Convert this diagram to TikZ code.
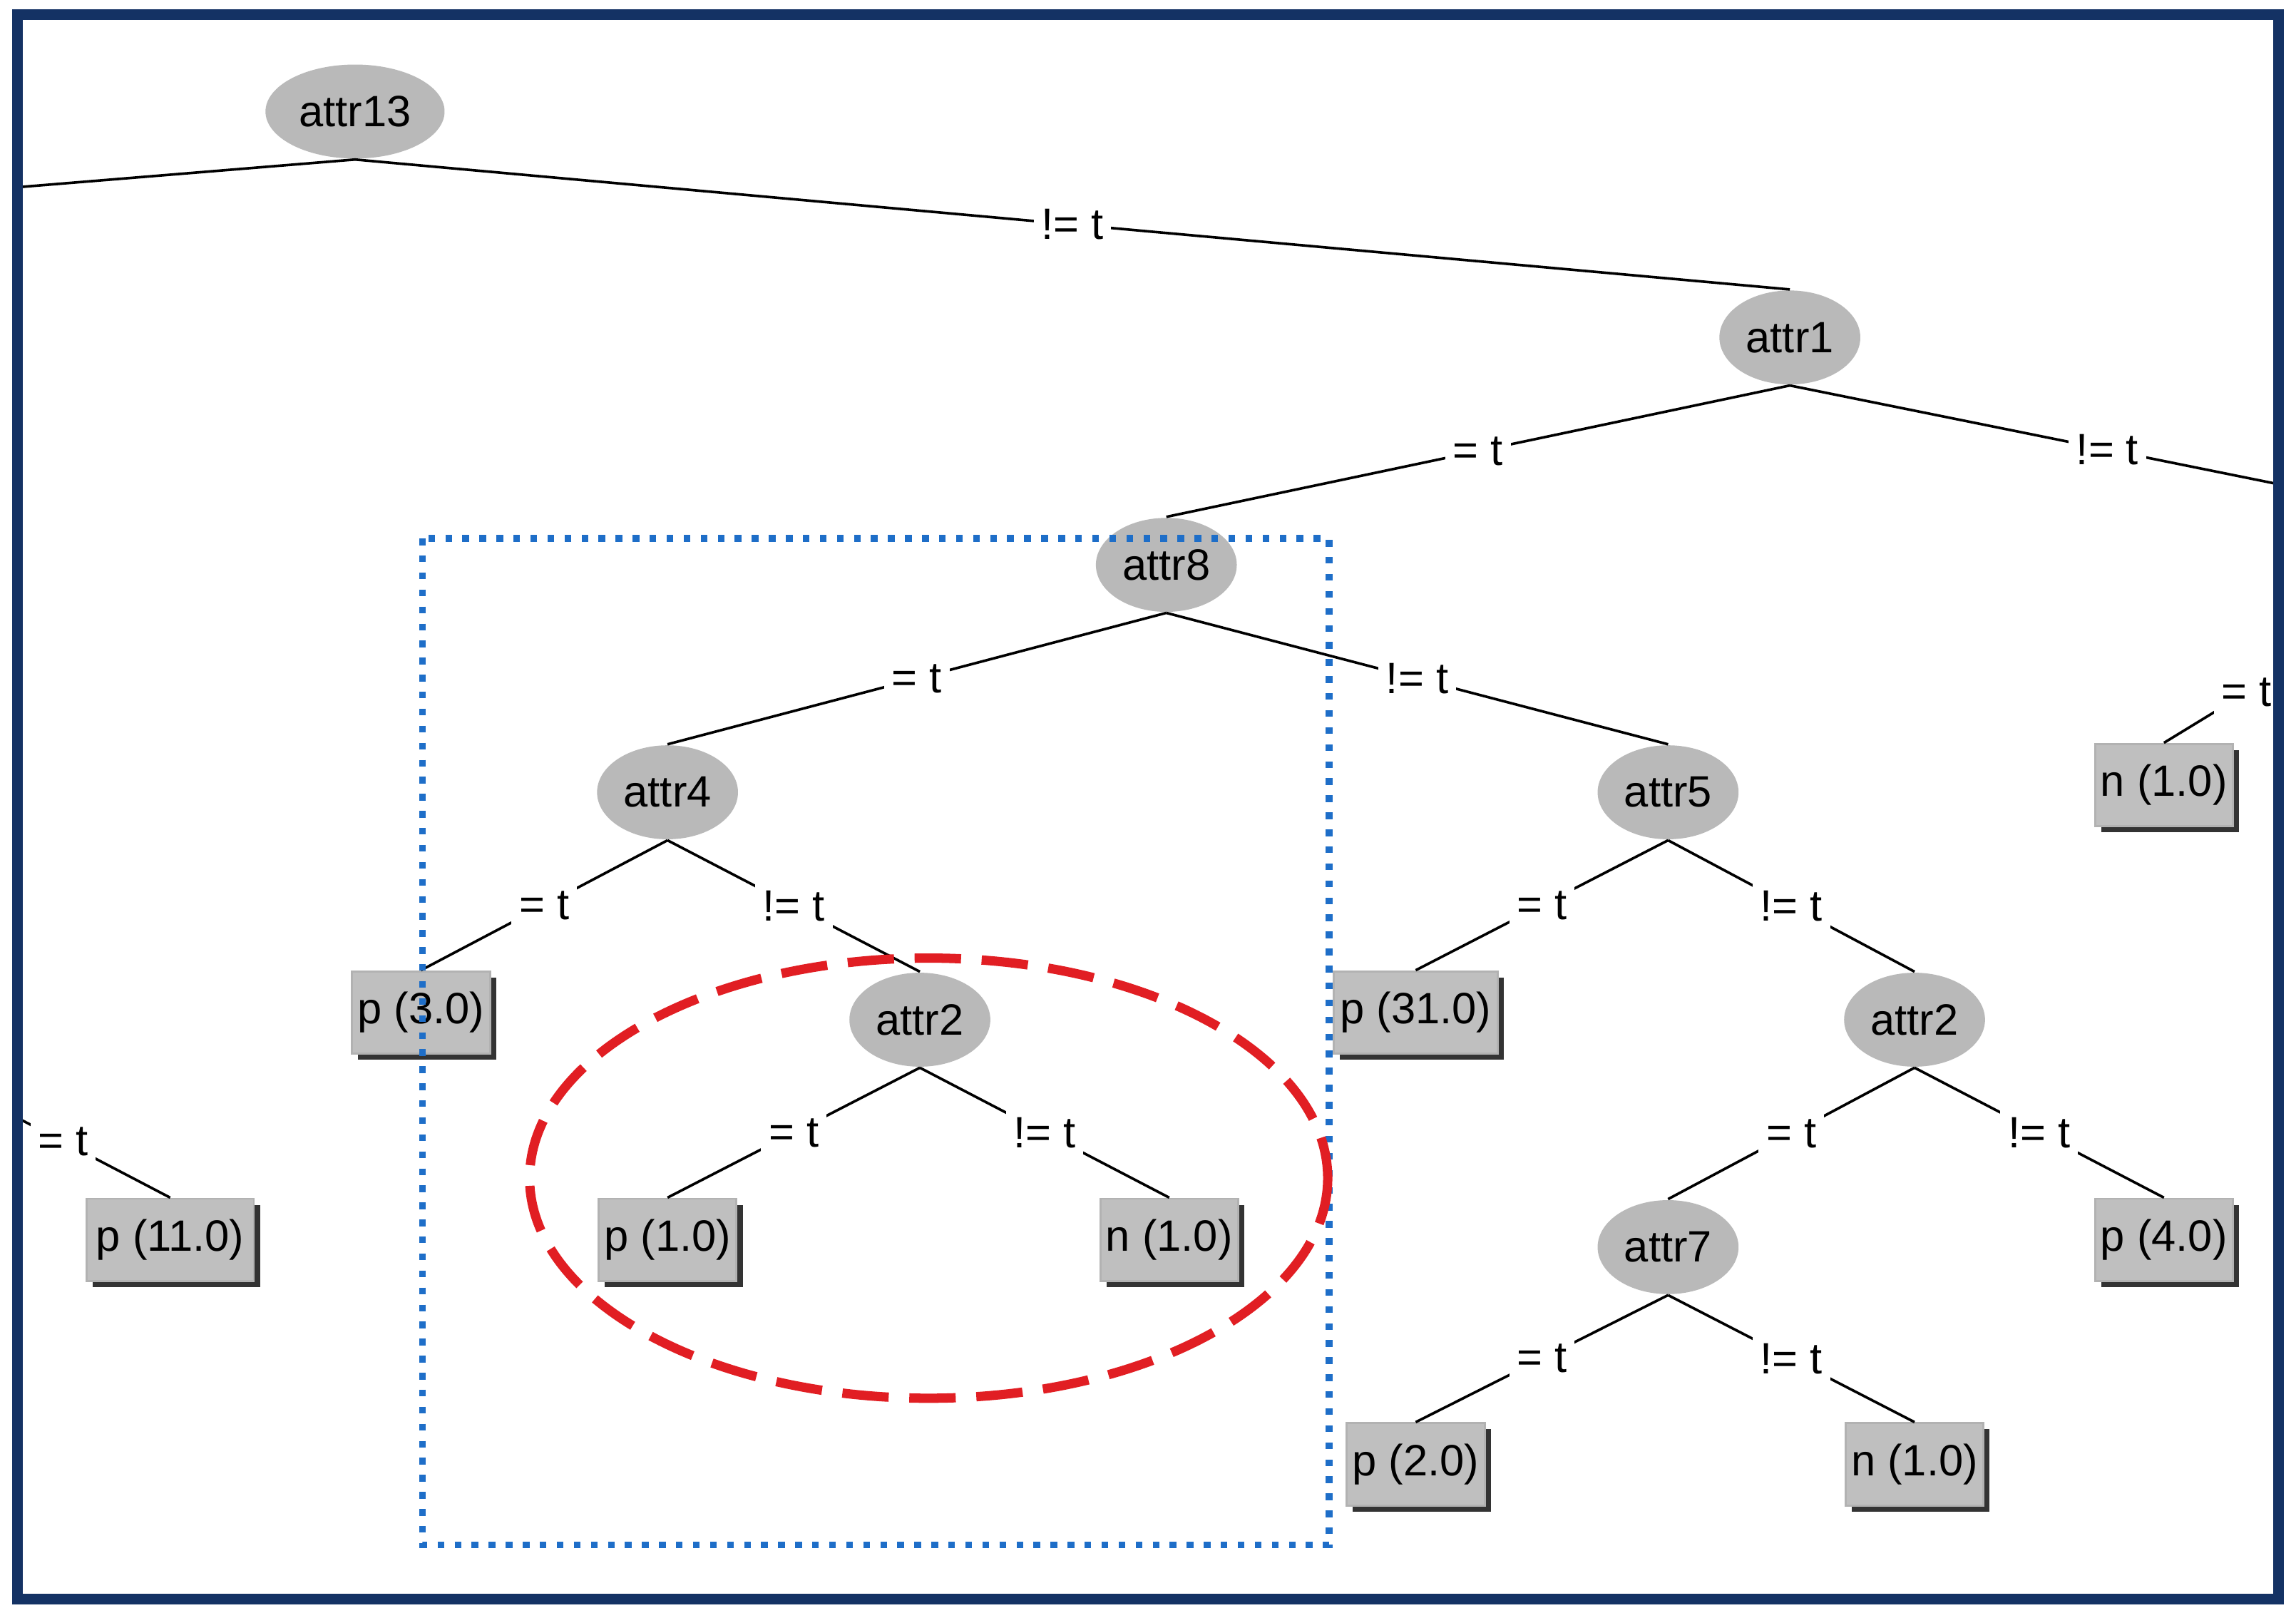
\documentclass[tikz,border=0pt]{standalone}
\usepackage{fontspec}
\setmainfont{Liberation Sans}
\usetikzlibrary{shapes.geometric,shadows}
\definecolor{frameblue}{RGB}{20,50,100}
\definecolor{dotblue}{RGB}{30,110,200}
\definecolor{redd}{RGB}{225,30,35}
\begin{document}
\begin{tikzpicture}[x=0.01cm,y=-0.01cm,
  font=\fontsize{8.5}{10}\selectfont,
  inner/.style={ellipse,fill=gray!55,minimum width=0.96cm,minimum height=0.64cm,inner sep=0pt},
  leaf/.style={rectangle,fill=gray!50,draw=gray!60,minimum width=0.94cm,minimum height=0.56cm,inner sep=0pt,
    drop shadow={shadow xshift=1.2pt,shadow yshift=-1.2pt,fill=gray!40!black,opacity=1}},
  edge/.style={draw=black,line width=0.5pt},
  lab/.style={midway,fill=white,inner sep=1.5pt}]
\useasboundingbox (0,0) rectangle (1565,1099);
\fill[white] (0,0) rectangle (1565,1099);
\begin{scope}
\clip (12,10) rectangle (1553,1090);
\node[inner,minimum width=1.22cm] (a13) at (242,76) {attr13};
\node[inner] (a1) at (1220,230) {attr1};
\node[inner] (a8) at (795,385) {attr8};
\node[inner] (a4) at (455,540) {attr4};
\node[inner] (a5) at (1137,540) {attr5};
\node[inner] (a2a) at (627,695) {attr2};
\node[inner] (a2b) at (1305,695) {attr2};
\node[inner] (a7) at (1137,850) {attr7};
\node[leaf] (l1) at (287,690) {p (3.0)};
\node[leaf,minimum width=1.12cm] (l2) at (965,690) {p (31.0)};
\node[leaf] (l3) at (1475,535) {n (1.0)};
\node[leaf,minimum width=1.14cm] (l4) at (116,845) {p (11.0)};
\node[leaf] (l5) at (455,845) {p (1.0)};
\node[leaf] (l6) at (797,845) {n (1.0)};
\node[leaf] (l7) at (1475,845) {p (4.0)};
\node[leaf] (l8) at (965,998) {p (2.0)};
\node[leaf] (l9) at (1305,998) {n (1.0)};
\coordinate (offl) at (-200,145);
\coordinate (offr) at (1553,330);
\coordinate (offr2) at (1600,430);
\coordinate (offl2) at (-30,740);
\draw[edge] (a13.south) -- (offl);
\draw[edge] (a13.south) -- (a1.north) node[lab] {!= t};
\draw[edge] (a1.south) -- (a8.north) node[lab] {= t};
\draw[edge] (a1.south) -- (offr) node[pos=0.65,fill=white,inner sep=1.5pt] {!= t};
\draw[edge] (a8.south) -- (a4.north) node[lab] {= t};
\draw[edge] (a8.south) -- (a5.north) node[lab] {!= t};
\draw[edge] (a4.south) -- (l1.north) node[lab] {= t};
\draw[edge] (a4.south) -- (a2a.north) node[lab] {!= t};
\draw[edge] (a5.south) -- (l2.north) node[lab] {= t};
\draw[edge] (a5.south) -- (a2b.north) node[lab] {!= t};
\draw[edge] (a2a.south) -- (l5.north) node[lab] {= t};
\draw[edge] (a2a.south) -- (l6.north) node[lab] {!= t};
\draw[edge] (a2b.south) -- (a7.north) node[lab] {= t};
\draw[edge] (a2b.south) -- (l7.north) node[lab] {!= t};
\draw[edge] (a7.south) -- (l8.north) node[lab] {= t};
\draw[edge] (a7.south) -- (l9.north) node[lab] {!= t};
\draw[edge] (offl2) -- (l4.north) node[pos=0.5,fill=white,inner sep=1.5pt] {= t};
\draw[edge] (offr2) -- (l3.north) node[pos=0.55,fill=white,inner sep=1.5pt] {= t};
\end{scope}
\draw[dotblue,line width=1.3pt,dotted] (288,367) rectangle (906,1053);
\draw[redd,line width=1.8pt,dash pattern=on 9pt off 4pt] (633,803) ellipse [x radius=272,y radius=150];
\draw[frameblue,line width=2pt] (12,10) rectangle (1553,1090);
\end{tikzpicture}
\end{document}
